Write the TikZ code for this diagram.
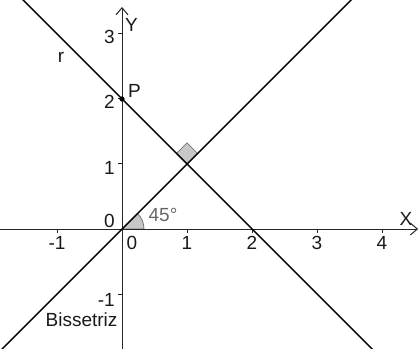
\documentclass[tikz,border=0pt]{standalone}
\usepackage{fontspec}
\setmainfont{Liberation Sans}
\usetikzlibrary{arrows.meta}
\begin{document}
\begin{tikzpicture}[x=65pt,y=65pt,
 lbl/.style={inner sep=0pt, font=\fontsize{19}{22}\selectfont, text=black!90},
 axisline/.style={line width=1pt, black!85, -{Straight Barb[length=7pt,width=12pt,line width=1pt]}},
 lineobj/.style={line width=1.4pt, black},
 tickmark/.style={line width=1pt, black!85},
 marker/.style={fill=black!22, draw=black!55, line width=0.8pt}]
\useasboundingbox (-1.877,-1.846) rectangle (4.569,3.523);
\clip (-1.877,-1.846) rectangle (4.569,3.523);
% markers
\coordinate (O) at (0,0);
\coordinate (I) at (1,1);
\filldraw[marker] (O) -- (0.338,0) arc (0:45:0.338) -- cycle;
\filldraw[marker] (I) -- ++(45:0.23) -- ++(135:0.23) -- ++(225:0.23) -- cycle;
% axes
\coordinate (xl) at (-1.877,0);
\coordinate (xr) at (4.555,0);
\coordinate (yb) at (0,-1.846);
\coordinate (yt) at (0,3.415);
\draw[axisline] (xl) -- (xr);
\draw[axisline] (yb) -- (yt);
\foreach \i in {-1,1,2,3,4} \draw[tickmark] (\i,0) -- (\i,-0.06);
\foreach \j in {-1,1,2,3} \draw[tickmark] (0,\j) -- (-0.06,\j);
% x labels
\node[lbl] (xm1) at (-1,-0.215) {-1};
\node[lbl] (x0) at (0.154,-0.215) {0};
\node[lbl] (x1) at (1,-0.215) {1};
\node[lbl] (x2) at (2,-0.215) {2};
\node[lbl] (x3) at (3,-0.215) {3};
\node[lbl] (x4) at (4,-0.215) {4};
% y labels
\node[lbl, anchor=east] (y3) at (-0.108,2.96) {3};
\node[lbl, anchor=east] (y2) at (-0.108,1.954) {2};
\node[lbl, anchor=east] (y1) at (-0.108,0.938) {1};
\node[lbl, anchor=east] (y0) at (-0.108,0.123) {0};
\node[lbl, anchor=east] (ym1) at (-0.108,-1.092) {-1};
\node[lbl] (X) at (4.369,0.154) {X};
\node[lbl] (Y) at (0.146,3.146) {Y};
% lines
\coordinate (r1) at (-1.7,3.7);
\coordinate (r2) at (4,-2);
\coordinate (b1) at (-2,-2);
\coordinate (b2) at (3.7,3.7);
\draw[lineobj] (r1) -- (r2);
\draw[lineobj] (b1) -- (b2);
% point P
\fill[black] (0,2) circle (2.6pt);
\node[lbl] (P) at (0.192,2.123) {P};
\node[lbl] (r) at (-0.938,2.646) {r};
\node[lbl] (bis) at (-0.623,-1.4) {Bissetriz};
\node[lbl, text=black!60] (ang) at (0.631,0.215) {45°};
\end{tikzpicture}
\end{document}
